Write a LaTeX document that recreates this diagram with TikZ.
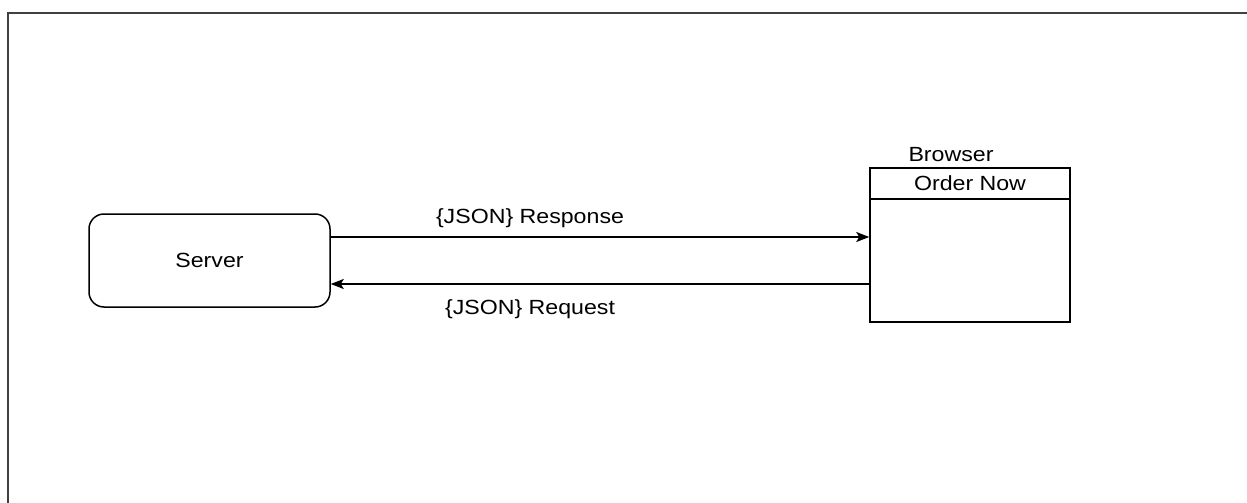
\documentclass[tikz,border=0pt]{standalone}
\usepackage{fontspec}
\setmainfont{Liberation Sans}[FakeStretch=1.13]
\usepackage{tikz}
\usetikzlibrary{positioning}
\usetikzlibrary{arrows.meta}

\begin{document}
\begin{tikzpicture}
        [x=1pt, y=-1pt,
         every node/.style={font=\fontsize{20.5}{24}\selectfont},
         box/.style={draw, line width=1.5pt, inner sep=0pt},
         flow/.style={line width=1.5pt, -{Stealth[length=13pt, width=10pt, inset=3pt]}}]
      \useasboundingbox (0,0) rectangle (1247,503);
      % frame round the sheet
      \draw[line width=2.6pt, black!75] (8,503) -- (8,13) -- (1247,13);

      \node[box, rounded corners=15pt, minimum width=241pt, minimum height=93pt]
            (server) at (209.5,260.5) {Server};
      \node[box, minimum width=200pt, minimum height=154pt]
            (browser) at (970,245) {};
      \node[box, minimum width=200pt, minimum height=31pt, anchor=north]
            (order) at (browser.north) {Order Now};
      \node (blabel) [above=2pt of browser.north, xshift=-19pt] {Browser};

      \draw[flow] ([yshift=23.5pt]server.east) -- ([yshift=23.5pt]server.east -| browser.west)
            node [midway, above=5pt, xshift=-70pt] {\{JSON\} Response};
      \draw[flow] ([yshift=-23.5pt]server.east -| browser.west) -- ([yshift=-23.5pt]server.east)
            node [midway, below=12pt, xshift=-70pt] {\{JSON\} Request};
\end{tikzpicture}
\end{document}
